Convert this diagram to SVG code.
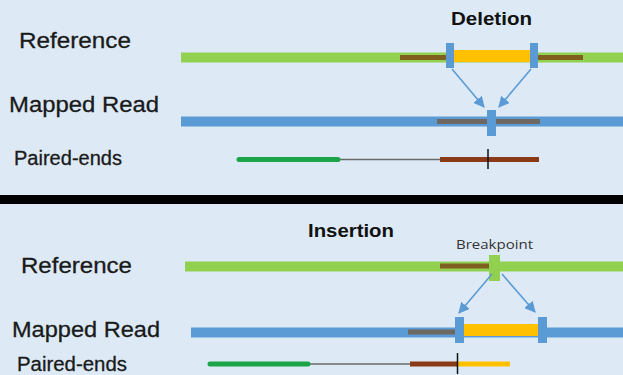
<svg xmlns="http://www.w3.org/2000/svg" width="623" height="375" viewBox="0 0 623 375">
  <defs>
    <style>
      .lbl { font-family: "Liberation Sans", Arial, sans-serif; fill: #1a1a1a; stroke: #1a1a1a; stroke-width: 0.3; }
      .big { font-size: 22px; }
      .pe { font-size: 20px; }
      .ttl { font-family: "Liberation Sans", Arial, sans-serif; font-weight: bold; font-size: 18px; fill: #111; }
      .bp { font-family: "Open Sans", "DejaVu Sans", sans-serif; font-size: 12px; fill: #333; }
      .ref { stroke: #92D050; stroke-width: 10; }
      .read { stroke: #5B9BD5; stroke-width: 10; }
      .brown { stroke: #7F5F1F; stroke-width: 5; }
      .gray { stroke: #6E6862; stroke-width: 5; }
      .yel { stroke: #FFC000; stroke-width: 12; }
      .pgreen { stroke: #1BA548; stroke-width: 5; stroke-linecap: round; }
      .pbrown { stroke: #8A3A16; stroke-width: 5; }
      .pyel { stroke: #FFC000; stroke-width: 5; }
      .thin { stroke: #6b6b6b; stroke-width: 1.5; }
      .tick { stroke: #111; stroke-width: 1.5; }
      .arrow { stroke: #5B9BD5; stroke-width: 1.6; fill: none; marker-end: url(#ah); }
    </style>
    <marker id="ah" viewBox="0 0 10 10" refX="9" refY="5" markerWidth="7" markerHeight="7" orient="auto" markerUnits="strokeWidth">
      <path d="M0,0 L10,5 L0,10 Z" fill="#5B9BD5"/>
    </marker>
  </defs>

  <rect x="0" y="0" width="623" height="375" fill="#DDEAF6"/>
  <rect id="separator" x="0" y="195" width="623" height="9" fill="#000"/>

  <!-- Deletion section -->
  <g id="deletion-title"><text class="ttl" x="451" y="25" textLength="81" lengthAdjust="spacingAndGlyphs">Deletion</text></g>
  <g id="del-ref-label"><text class="lbl big" x="19" y="48" textLength="112" lengthAdjust="spacingAndGlyphs">Reference</text></g>
  <g id="del-read-label"><text class="lbl big" x="9" y="112" textLength="150" lengthAdjust="spacingAndGlyphs">Mapped Read</text></g>
  <g id="del-pe-label"><text class="lbl pe" x="14" y="165" textLength="108" lengthAdjust="spacingAndGlyphs">Paired-ends</text></g>

  <g id="del-reference">
    <line class="ref" x1="181" y1="57.5" x2="623" y2="57.5"/>
    <line class="brown" x1="400" y1="57.5" x2="450" y2="57.5"/>
    <line class="brown" x1="534" y1="57.5" x2="583" y2="57.5"/>
    <line class="yel" x1="454" y1="56" x2="530" y2="56"/>
    <rect x="446" y="43" width="8" height="25" fill="#5B9BD5"/>
    <rect x="530" y="43" width="8" height="25" fill="#5B9BD5"/>
  </g>

  <g id="del-mapped-read">
    <line class="read" x1="181" y1="121.5" x2="623" y2="121.5"/>
    <line class="gray" x1="437" y1="121.5" x2="540" y2="121.5"/>
    <rect x="487" y="110" width="9" height="26" fill="#5B9BD5"/>
  </g>

  <g id="del-paired-ends">
    <line class="thin" x1="338" y1="159.5" x2="440" y2="159.5"/>
    <line class="pgreen" x1="239" y1="159.5" x2="338" y2="159.5"/>
    <line class="pbrown" x1="440" y1="159.5" x2="539" y2="159.5"/>
    <line class="tick" x1="488" y1="149" x2="488" y2="169"/>
  </g>

  <!-- Insertion section -->
  <g id="insertion-title"><text class="ttl" x="308" y="237" textLength="86" lengthAdjust="spacingAndGlyphs">Insertion</text></g>
  <g id="breakpoint-label"><text class="bp" x="456" y="249" textLength="77" lengthAdjust="spacingAndGlyphs">Breakpoint</text></g>
  <g id="ins-ref-label"><text class="lbl big" x="21" y="273" textLength="111" lengthAdjust="spacingAndGlyphs">Reference</text></g>
  <g id="ins-read-label"><text class="lbl big" x="12" y="337" textLength="148" lengthAdjust="spacingAndGlyphs">Mapped Read</text></g>
  <g id="ins-pe-label"><text class="lbl pe" x="17" y="371" textLength="110" lengthAdjust="spacingAndGlyphs">Paired-ends</text></g>

  <g id="ins-reference">
    <line class="ref" x1="185" y1="266.5" x2="623" y2="266.5"/>
    <line class="brown" x1="440" y1="266" x2="490" y2="266"/>
    <rect x="489" y="255" width="11" height="26" fill="#92D050"/>
  </g>

  <g id="ins-mapped-read">
    <line class="read" x1="191" y1="332.5" x2="623" y2="332.5"/>
    <line class="gray" x1="408" y1="332" x2="456" y2="332"/>
    <line class="yel" x1="463" y1="330" x2="539" y2="330"/>
    <rect x="455" y="317" width="9" height="26" fill="#5B9BD5"/>
    <rect x="538" y="317" width="9" height="26" fill="#5B9BD5"/>
  </g>

  <g id="ins-paired-ends">
    <line class="thin" x1="308" y1="364" x2="410" y2="364"/>
    <line class="pgreen" x1="210" y1="364" x2="308" y2="364"/>
    <line class="pbrown" x1="410" y1="364" x2="458" y2="364"/>
    <line class="pyel" x1="458" y1="364" x2="510" y2="364"/>
    <line class="tick" x1="457.5" y1="353" x2="457.5" y2="374"/>
  </g>

  <g id="connectors">
    <line class="arrow" x1="452" y1="69" x2="484" y2="107"/>
    <line class="arrow" x1="531" y1="69" x2="499" y2="107"/>
    <line class="arrow" x1="492" y1="274" x2="459" y2="313"/>
    <line class="arrow" x1="502" y1="274" x2="535" y2="312"/>
  </g>
</svg>
